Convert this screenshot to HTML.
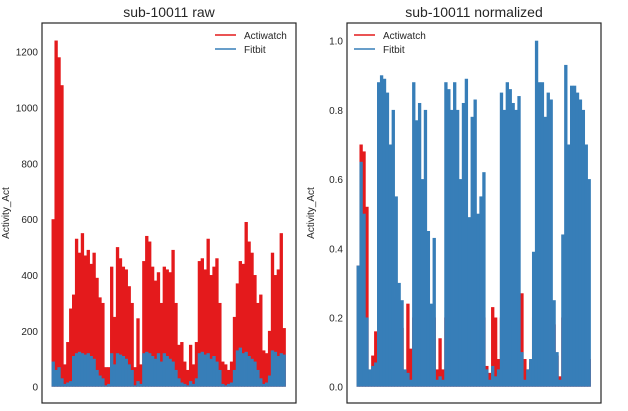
<!DOCTYPE html>
<html><head><meta charset="utf-8"><style>
body{margin:0;background:#fff;}
svg text{font-family:"Liberation Sans",sans-serif;fill:#262626;}
</style></head><body>
<svg id="c" width="628" height="406" xmlns="http://www.w3.org/2000/svg"></svg>
<script>
const idx = Array.from({length:80},(_,i)=>i);
const rawActiwatch=[600,1240,1180,1080,80,160,280,330,530,480,550,470,490,440,480,390,320,300,70,70,430,250,500,460,430,420,360,300,70,245,80,450,540,520,430,380,410,300,430,420,410,490,300,150,160,90,60,150,80,160,450,460,420,530,400,430,460,300,90,80,60,90,250,370,450,440,590,520,480,400,300,330,130,120,200,480,400,420,550,210];
const rawFitbit=[90,60,70,30,10,15,20,110,120,125,120,115,120,110,100,60,40,30,5,10,120,80,120,115,110,100,80,60,5,20,10,120,125,120,110,100,120,90,120,110,100,90,60,30,15,10,5,20,10,30,120,125,115,120,100,110,90,60,10,5,10,15,60,130,140,120,125,110,100,90,60,30,10,15,40,130,125,110,120,115];
const normActiwatch=[0.35,0.7,0.68,0.52,0.03,0.09,0.16,0.19,0.2,0.2,0.2,0.2,0.26,0.26,0.2,0.17,0.04,0.24,0.11,0.2,0.2,0.2,0.2,0.2,0.2,0.2,0.2,0.05,0.14,0.05,0.2,0.2,0.2,0.2,0.2,0.2,0.2,0.2,0.2,0.2,0.2,0.2,0.2,0.2,0.06,0.04,0.23,0.2,0.08,0.2,0.2,0.2,0.2,0.2,0.2,0.2,0.27,0.08,0.05,0.07,0.2,0.2,0.2,0.2,0.2,0.3,0.2,0.18,0.09,0.03,0.2,0.2,0.2,0.2,0.2,0.2,0.2,0.2,0.2,0.08];
const normFitbit=[0.35,0.65,0.5,0.2,0.05,0.06,0.07,0.88,0.9,0.89,0.85,0.7,0.8,0.55,0.3,0.25,0.05,0.04,0.02,0.88,0.77,0.82,0.6,0.8,0.45,0.24,0.43,0.02,0.03,0.02,0.88,0.86,0.8,0.88,0.8,0.6,0.82,0.89,0.49,0.78,0.83,0.5,0.55,0.62,0.05,0.02,0.06,0.03,0.05,0.85,0.8,0.88,0.86,0.82,0.8,0.84,0.1,0.02,0.05,0.08,0.39,1.0,0.88,0.88,0.78,0.85,0.83,0.25,0.1,0.02,0.44,0.93,0.7,0.87,0.87,0.85,0.83,0.8,0.7,0.6];
const rawTicks=[0,200,400,600,800,1000,1200];
const normTicks=[0,0.2,0.4,0.6,0.8,1.0];
const svg=document.getElementById('c');
const NS='http://www.w3.org/2000/svg';
function mk(t,a,p){const e=document.createElementNS(NS,t);for(const k in a)e.setAttribute(k,a[k]);(p||svg).appendChild(e);return e;}
function panel(o){
  const g=mk('g',{});
  
  
  const y=v=>o.y0+(v-o.vmin)/(o.vmax-o.vmin)*(o.y1-o.y0);
  const n=idx.length, step=(o.x1-o.x0)/(n-1);
  const x=i=>o.x0+i*step;
  [[o.a,'#e41a1c','actiwatch'],[o.f,'#377eb8','fitbit']].forEach(([arr,col,nm])=>{
    const sg=mk('g',{},g);
    
    
    idx.forEach(i=>{
      const r=mk('rect',{x:x(i)-step/2,y:y(arr[i]),width:step+0.4,height:y(0)-y(arr[i]),fill:col},sg);
      
      
    });
  });
  const fr=mk('rect',{x:o.bx,y:23,width:254,height:380,fill:'none',stroke:'#262626','stroke-width':1.2},g);
  
  
  o.ticks.forEach(t=>{
    const tx=mk('text',{x:o.bx-4,y:y(t)+4,'font-size':10,'text-anchor':'end'},g);
    tx.textContent=o.fmt(t);
    
    
  });
  const ti=mk('text',{x:o.bx+127,y:17,'font-size':14,'text-anchor':'middle'},g);
  ti.textContent=o.title;
  
  
  const yl=mk('text',{x:0,y:0,'font-size':10,'text-anchor':'middle',transform:`translate(${o.bx-33},${(23+403)/2}) rotate(-90)`},g);
  yl.textContent='Activity_Act';
  
  
  [['Actiwatch','#e41a1c',35],['Fitbit','#377eb8',49]].forEach(([t,c,ly])=>{
    const lg=mk('g',{},g);
    
    
    mk('line',{x1:o.lx,x2:o.lx+21,y1:ly,y2:ly,stroke:c,'stroke-width':1.6},lg);
    const lt=mk('text',{x:o.lx+29,y:ly+4,'font-size':10},lg);
    lt.textContent=t;
  });
}
panel({name:'raw-panel',bx:42,x0:53,x1:284,y0:386.7,y1:51.7,vmin:0,vmax:1200,a:rawActiwatch,f:rawFitbit,ticks:rawTicks,fmt:t=>String(t),title:'sub-10011 raw',lx:215});
panel({name:'normalized-panel',bx:347,x0:358,x1:589,y0:386.7,y1:40.7,vmin:0,vmax:1,a:normActiwatch,f:normFitbit,ticks:normTicks,fmt:t=>t.toFixed(1),title:'sub-10011 normalized',lx:354});
</script>
</body></html>
